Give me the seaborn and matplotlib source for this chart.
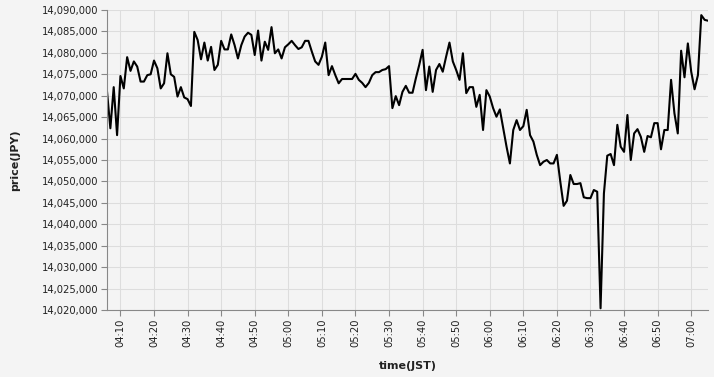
import matplotlib
matplotlib.use("Agg")
import matplotlib.pyplot as plt
import matplotlib.dates as mdates
import matplotlib.ticker as mticker
import seaborn as sns
import pandas as pd

start_time = "2024-01-01 04:06"
prices_k = [
    14071.0, 14062.4, 14072.0, 14060.8, 14074.6, 14071.7, 14079.0, 14075.8, 14078.0, 14076.8,
    14073.3, 14073.3, 14074.8, 14075.0, 14078.2, 14076.4, 14071.7, 14072.9, 14079.9, 14075.0,
    14074.4, 14069.8, 14072.0, 14069.6, 14069.2, 14067.6, 14084.9, 14083.0, 14078.5, 14082.4,
    14078.2, 14081.4, 14076.0, 14077.2, 14082.8, 14080.8, 14080.8, 14084.3, 14081.8, 14078.7,
    14081.8, 14083.8, 14084.7, 14084.2, 14079.5, 14085.2, 14078.2, 14082.6, 14080.7, 14086.0,
    14079.9, 14080.8, 14078.7, 14081.3, 14082.0, 14082.8, 14081.8, 14080.9, 14081.3, 14082.8,
    14082.8, 14080.3, 14078.0, 14077.2, 14079.1, 14082.4, 14074.8, 14076.9, 14074.8, 14072.9,
    14073.9, 14073.9, 14073.9, 14073.9, 14075.1, 14073.7, 14073.0, 14072.0, 14073.0, 14074.8,
    14075.5, 14075.5, 14076.0, 14076.2, 14076.9, 14067.1, 14069.9, 14067.8, 14070.9, 14072.3,
    14070.7, 14070.7, 14074.1, 14077.2, 14080.7, 14071.3, 14076.8, 14070.9, 14076.0, 14077.4,
    14075.6, 14079.1, 14082.4, 14078.0, 14076.0, 14073.7, 14079.9, 14070.6, 14072.0, 14072.0,
    14067.4, 14070.2, 14062.0, 14071.3, 14069.8, 14067.1, 14065.1, 14066.8, 14062.4, 14058.1,
    14054.2, 14062.0, 14064.3, 14062.0, 14062.9, 14066.7, 14060.8, 14059.3, 14056.2, 14053.8,
    14054.6, 14055.0, 14054.2, 14054.2, 14056.2, 14050.0, 14044.3, 14045.5, 14051.5, 14049.4,
    14049.4, 14049.6, 14046.3, 14046.1, 14046.1, 14048.0, 14047.6, 14020.4, 14047.2, 14056.0,
    14056.4, 14053.8, 14063.2, 14058.1, 14056.9, 14065.5, 14055.0, 14061.2, 14062.2, 14060.4,
    14056.9, 14060.6, 14060.3, 14063.6, 14063.6, 14057.5, 14062.0, 14062.0, 14073.7, 14065.9,
    14061.2, 14080.5, 14074.3, 14082.2, 14075.6, 14071.5, 14074.8, 14088.8, 14087.7, 14087.5,
]
y_ticks = list(range(14020000, 14090001, 5000))

df = pd.DataFrame({
    "time": pd.date_range(start_time, periods=len(prices_k), freq="1min"),
    "price": [round(p * 1000) for p in prices_k],
})

bg = "#f4f4f4"
sns.set_theme(style="whitegrid")
plt.rcParams["font.family"] = ["DejaVu Sans"]

fig = plt.figure(figsize=(7.14, 3.77), dpi=100, facecolor=bg)
ax = fig.add_axes([107 / 714, 1 - 310 / 377, (708 - 107) / 714, 300 / 377])
ax.set_facecolor(bg)

sns.lineplot(data=df, x="time", y="price", ax=ax, color="black", linewidth=1.5)

ax.set_xlim(df["time"].iloc[0], df["time"].iloc[-1])
ax.set_ylim(y_ticks[0], y_ticks[-1])
ax.set_yticks(y_ticks)
ax.yaxis.set_major_formatter(mticker.FuncFormatter(lambda v, p: f"{int(v):,}"))
ax.xaxis.set_major_locator(mdates.MinuteLocator(byminute=range(0, 60, 10)))
ax.xaxis.set_major_formatter(mdates.DateFormatter("%H:%M"))

for s in ["top", "right"]:
    ax.spines[s].set_visible(False)
for s in ["left", "bottom"]:
    ax.spines[s].set_color("#888888")
    ax.spines[s].set_linewidth(0.8)

ax.grid(True, color="#dddddd", linewidth=0.75)
ax.tick_params(axis="both", which="major", length=4, width=0.8, color="#888888",
               labelsize=7.2, labelcolor="#222222", pad=2, left=True, bottom=True)
ax.tick_params(axis="x", labelrotation=90)

ax.set_xlabel("time(JST)", fontsize=8, fontweight="bold", labelpad=10, color="#222222")
ax.set_ylabel("price(JPY)", fontsize=8, fontweight="bold", labelpad=16, color="#222222")

fig.savefig("out.png", dpi=100, facecolor=bg)
